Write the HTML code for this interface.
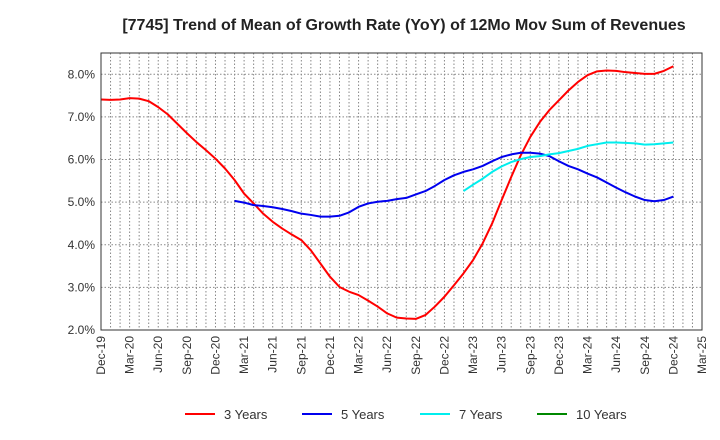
<!DOCTYPE html>
<html><head><meta charset="utf-8">
<style>
body{margin:0;background:#fff;}
svg{font-family:"Liberation Sans",Arial,sans-serif;display:block;}
</style></head>
<body>
<svg id="chart" width="720" height="440" viewBox="0 0 720 440">
<text x="404" y="30" text-anchor="middle" font-size="16" font-weight="bold" fill="#222">[7745]  Trend of Mean of Growth Rate (YoY) of 12Mo Mov Sum of Revenues</text>
<g id="grid"></g>
<g id="yaxis"></g>
<g id="xaxis"></g>
<g id="series"></g>
<rect x="101" y="53" width="601" height="277" fill="none" stroke="#333" stroke-width="1"/>
<g id="legend"></g>
</svg>
<script>
const xLabels = ["Dec-19","Mar-20","Jun-20","Sep-20","Dec-20","Mar-21","Jun-21","Sep-21","Dec-21","Mar-22","Jun-22","Sep-22","Dec-22","Mar-23","Jun-23","Sep-23","Dec-23","Mar-24","Jun-24","Sep-24","Dec-24","Mar-25"];
const yTicks = [2,3,4,5,6,7,8];
const seriesNames = ["3 Years","5 Years","7 Years","10 Years"];
const seriesColors = ["#ff0000","#0000ee","#00eeee","#008800"];
const y3 = [7.41,7.40,7.41,7.44,7.43,7.37,7.23,7.06,6.84,6.62,6.41,6.22,6.02,5.79,5.52,5.20,4.97,4.73,4.54,4.38,4.24,4.11,3.87,3.56,3.25,3.01,2.90,2.82,2.69,2.55,2.39,2.29,2.27,2.26,2.35,2.55,2.78,3.05,3.33,3.64,4.03,4.50,5.05,5.59,6.10,6.53,6.88,7.16,7.39,7.62,7.82,7.98,8.07,8.09,8.08,8.05,8.03,8.01,8.01,8.08,8.19];
const y5Start = 14;
const y5 = [5.03,4.99,4.93,4.91,4.88,4.84,4.79,4.73,4.70,4.66,4.66,4.68,4.76,4.89,4.97,5.01,5.03,5.07,5.10,5.18,5.26,5.38,5.52,5.63,5.71,5.77,5.85,5.96,6.06,6.12,6.16,6.16,6.14,6.08,5.96,5.85,5.77,5.67,5.58,5.46,5.34,5.23,5.13,5.05,5.02,5.05,5.13];
const y7Start = 38;
const y7 = [5.26,5.41,5.55,5.71,5.84,5.94,6.01,6.06,6.08,6.12,6.15,6.20,6.25,6.32,6.36,6.40,6.40,6.39,6.38,6.35,6.36,6.38,6.40];
const y10Start = 0;
const y10 = [];

const NS="http://www.w3.org/2000/svg";
const L=101,R=702,T=53,B=330;
const nMonths=63;
const xs=i=>L+(R-L)*i/nMonths;
const ys=v=>B-(v-2)*(B-T)/6.5;
function mk(tag,attrs,parent){const e=document.createElementNS(NS,tag);for(const k in attrs)e.setAttribute(k,attrs[k]);parent.appendChild(e);return e;}
const grid=document.getElementById('grid'),yax=document.getElementById('yaxis'),xax=document.getElementById('xaxis'),ser=document.getElementById('series'),leg=document.getElementById('legend');
for(let m=1;m<nMonths;m++){
  const l=mk('line',{x1:xs(m),x2:xs(m),y1:T,y2:B,stroke:'#888','stroke-width':1,'stroke-dasharray':'1.5,2'},grid);
  
  
}
yTicks.forEach(v=>{
  const y=ys(v);
  if(v>2){const g=mk('line',{x1:L,x2:R,y1:y,y2:y,stroke:'#888','stroke-width':1,'stroke-dasharray':'1.5,2'},grid);
  
  }
  const t=mk('text',{x:L-6,y:y+4,'text-anchor':'end','font-size':12,fill:'#333'},yax);
  t.textContent=v.toFixed(1)+'%';
  
  
});
xLabels.forEach((lab,i)=>{
  const x=xs(i*3);
  const t=mk('text',{x:0,y:0,transform:`translate(${x+4},336) rotate(-90)`,'text-anchor':'end','font-size':12,fill:'#333'},xax);
  t.textContent=lab;
  
  
});
function drawSeries(vals,start,color,name){
  if(!vals.length)return;
  const d=vals.map((v,k)=>(k?'L':'M')+xs(start+k).toFixed(2)+','+ys(v).toFixed(2)).join(' ');
  const p=mk('path',{d:d,fill:'none',stroke:color,'stroke-width':2,'stroke-linejoin':'round'},ser);
  
  
}
drawSeries(y3,0,seriesColors[0],'series-3-years');
drawSeries(y5,y5Start,seriesColors[1],'series-5-years');
drawSeries(y7,y7Start,seriesColors[2],'series-7-years');
drawSeries(y10,y10Start,seriesColors[3],'series-10-years');
const legX=[185,302,420,537];
seriesNames.forEach((n,i)=>{
  const g=mk('g',{},leg);
  
  
  mk('line',{x1:legX[i],x2:legX[i]+30,y1:414,y2:414,stroke:seriesColors[i],'stroke-width':2},g);
  const t=mk('text',{x:legX[i]+39,y:419,'font-size':13,fill:'#333'},g);
  t.textContent=n;
});
</script>
</body></html>
